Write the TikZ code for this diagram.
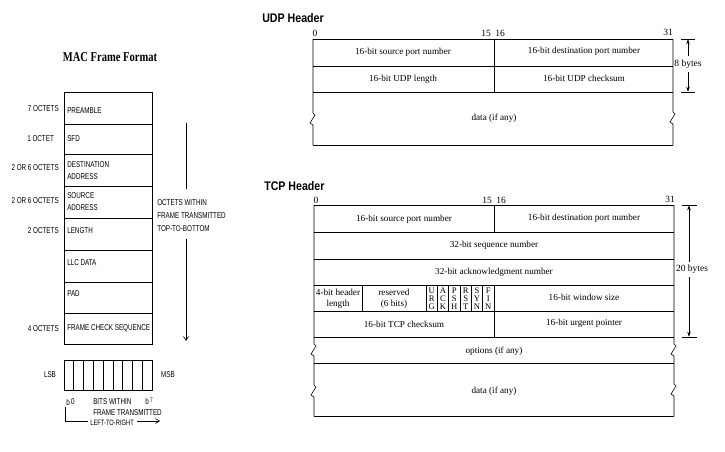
\documentclass[tikz,border=0pt]{standalone}
\usepackage{fontspec}
\setmainfont{Liberation Serif}
\newfontfamily\macfont[FakeStretch=0.74]{Liberation Sans}
\newfontfamily\ttlfont[FakeStretch=0.78]{Liberation Serif}
\newfontfamily\hdrfont[FakeStretch=0.85]{Liberation Sans}
\usetikzlibrary{arrows.meta}
\begin{document}
\begin{tikzpicture}[x=1pt,y=-1pt,line width=0.6pt,
  mac/.style={font=\macfont\fontsize{8.5}{13}\selectfont,inner sep=0pt,align=left},
  fld/.style={font=\fontsize{9.2}{11}\selectfont,inner sep=0pt,align=center},
  num/.style={font=\fontsize{9.5}{11}\selectfont,inner sep=0pt},
  flag/.style={font=\fontsize{8.6}{7.9}\selectfont,inner sep=0pt,align=center},
  ttl/.style={font=\ttlfont\bfseries\fontsize{13.5}{15}\selectfont,inner sep=0pt},
  hdr/.style={font=\hdrfont\bfseries\fontsize{12.5}{14}\selectfont,inner sep=0pt,anchor=west},
  dimarrow/.style={-{Stealth[length=5pt,width=3.5pt]}},
  flowarrow/.style={-{Straight Barb[length=4pt,width=5pt]}}]
\useasboundingbox (0,0) rectangle (725,451);

% ================= MAC FRAME FORMAT =================
\node[ttl] (mactitle) at (110,57) {MAC Frame Format};
\draw (64,92) rectangle (152,344);
\foreach \y in {124,154,186,218,250,282,313} \draw (64,\y) -- (152,\y);

\node[mac,anchor=west] (fpre) at (67,111) {PREAMBLE};
\node[mac,anchor=west] (fsfd) at (67,139) {SFD};
\node[mac,anchor=west] (fdst) at (67,171) {DESTINATION\\[-1pt]ADDRESS};
\node[mac,anchor=west] (fsrc) at (67,202) {SOURCE\\[-1pt]ADDRESS};
\node[mac,anchor=west] (flen) at (67,231) {LENGTH};
\node[mac,anchor=west] (fllc) at (67,263) {LLC DATA};
\node[mac,anchor=west] (fpad) at (67,294) {PAD};
\node[mac,anchor=west] (ffcs) at (67,328) {FRAME CHECK SEQUENCE};

\node[mac,anchor=east] (lpre) at (59,109) {7 OCTETS};
\node[mac,anchor=west] (lsfd) at (27,139) {1 OCTET};
\node[mac,anchor=east] (ldst) at (59,168) {2 OR 6 OCTETS};
\node[mac,anchor=east] (lsrc) at (59,201) {2 OR 6 OCTETS};
\node[mac,anchor=east] (llen) at (59,231) {2 OCTETS};
\node[mac,anchor=east] (lfcs) at (59,329) {4 OCTETS};

\node[mac,anchor=west] (ttb) at (157,216) {OCTETS WITHIN\\FRAME TRANSMITTED\\TOP-TO-BOTTOM};
\coordinate (ta) at (186,123);
\coordinate (tb) at (186,189);
\coordinate (tc) at (186,239);
\coordinate (td) at (186,341);
\draw (ta) -- (tb);
\draw[flowarrow] (tc) -- (td);

% bits box
\draw (64,360) rectangle (152,390);
\foreach \k in {1,...,8} \draw ({64+\k*88/9},360) -- ({64+\k*88/9},390);
\node[mac] (lsb) at (50,375) {LSB};
\node[mac] (msb) at (168,375) {MSB};
\node[mac,anchor=west] (b0) at (66,402) {b\,\raisebox{1.2pt}{0}};
\node[mac,anchor=west] (b7) at (145,401) {b\,\raisebox{2pt}{\fontsize{6.5}{7}\selectfont 7}};
\node[mac,anchor=west] (bits) at (93,407) {BITS WITHIN\\[-2.5pt]FRAME TRANSMITTED};
\node[mac,anchor=west,font=\macfont\fontsize{7.8}{9}\selectfont] (ltr) at (90,423) {LEFT-TO-RIGHT};
\coordinate (la) at (65,407);
\coordinate (lb) at (65,421);
\coordinate (lc) at (88,421);
\coordinate (ld) at (137,421);
\coordinate (le) at (160,421);
\draw (la) -- (lb) -- (lc);
\draw[flowarrow] (ld) -- (le);

% ================= UDP HEADER =================
\node[hdr] (udptitle) at (262,18) {UDP Header};
\node[num] (u0) at (315,33) {0};
\node[num] (u15) at (486,33) {15};
\node[num] (u16) at (500,33) {16};
\node[num] (u31) at (668,32) {31};

\foreach \y in {39,66,92,145} \draw (313,\y) -- (673,\y);
\draw (494,39) -- (494,92);
\draw (313,39) -- (313,113) -- (315,115) -- (310,123) -- (313,125) -- (313,145);
\draw (673,39) -- (673,112) -- (675,114) -- (670,122) -- (673,124) -- (673,145);

\node[fld] (usrc) at (403,52) {16-bit source port number};
\node[fld] (udst) at (584,51) {16-bit destination port number};
\node[fld] (ulen) at (403,79) {16-bit UDP length};
\node[fld] (uck) at (584,78) {16-bit UDP checksum};
\node[fld] (udata) at (494,118) {data (if any)};

\draw (681,39) -- (695,39);
\draw (681,92) -- (695,92);
\node[num] (u8) at (688,64) {8 bytes};
\coordinate (ua) at (688,56);
\coordinate (ub) at (688,39.3);
\coordinate (uc) at (688,72);
\coordinate (ud) at (688,91.7);
\draw[dimarrow] (ua) -- (ub);
\draw[dimarrow] (uc) -- (ud);

% ================= TCP HEADER =================
\node[hdr] (tcptitle) at (264,186) {TCP Header};
\node[num] (t0) at (316,200) {0};
\node[num] (t15) at (487,200) {15};
\node[num] (t16) at (501,200) {16};
\node[num] (t31) at (670,199) {31};

\foreach \y in {205,232,259,285,311,337,363,416} \draw (314,\y) -- (674,\y);
\draw (494,205) -- (494,232);
\draw (494,285) -- (494,337);
\draw (362,285) -- (362,311);
\foreach \k in {0,...,5} \draw ({426+\k*68/6},285) -- ({426+\k*68/6},311);
\draw (314,205) -- (314,344) -- (316,346) -- (311,354) -- (314,356) -- (314,385) -- (316,387) -- (311,395) -- (314,397) -- (314,416);
\draw (674,205) -- (674,344) -- (676,346) -- (671,354) -- (674,356) -- (674,384) -- (676,386) -- (671,394) -- (674,396) -- (674,416);

\node[fld] (tsrc) at (404,219) {16-bit source port number};
\node[fld] (tdst) at (584,218) {16-bit destination port number};
\node[fld] (tseq) at (494,245) {32-bit sequence number};
\node[fld] (tack) at (494,272) {32-bit acknowledgment number};
\node[fld] (thl) at (338,299) {4-bit header\\length};
\node[fld] (tres) at (394,299) {reserved\\(6 bits)};
\node[flag] (furg) at ({426+0.5*68/6},298.5) {U\\R\\G};
\node[flag] (fack) at ({426+1.5*68/6},298.5) {A\\C\\K};
\node[flag] (fpsh) at ({426+2.5*68/6},298.5) {P\\S\\H};
\node[flag] (frst) at ({426+3.5*68/6},298.5) {R\\S\\T};
\node[flag] (fsyn) at ({426+4.5*68/6},298.5) {S\\Y\\N};
\node[flag] (ffin) at ({426+5.5*68/6},298.5) {F\\I\\N};
\node[fld] (twin) at (584,297) {16-bit window size};
\node[fld] (tck) at (404,324) {16-bit TCP checksum};
\node[fld] (turg) at (584,323) {16-bit urgent pointer};
\node[fld] (topt) at (494,351) {options (if any)};
\node[fld] (tdata) at (494,391) {data (if any)};

\draw (682,205) -- (697,205);
\draw (682,337) -- (697,337);
\node[num] (t20) at (692,269) {20 bytes};
\coordinate (tta) at (689,262);
\coordinate (ttb) at (689,205.3);
\coordinate (ttc) at (689,277);
\coordinate (ttd) at (689,336.7);
\draw[dimarrow] (tta) -- (ttb);
\draw[dimarrow] (ttc) -- (ttd);
\end{tikzpicture}
\end{document}
